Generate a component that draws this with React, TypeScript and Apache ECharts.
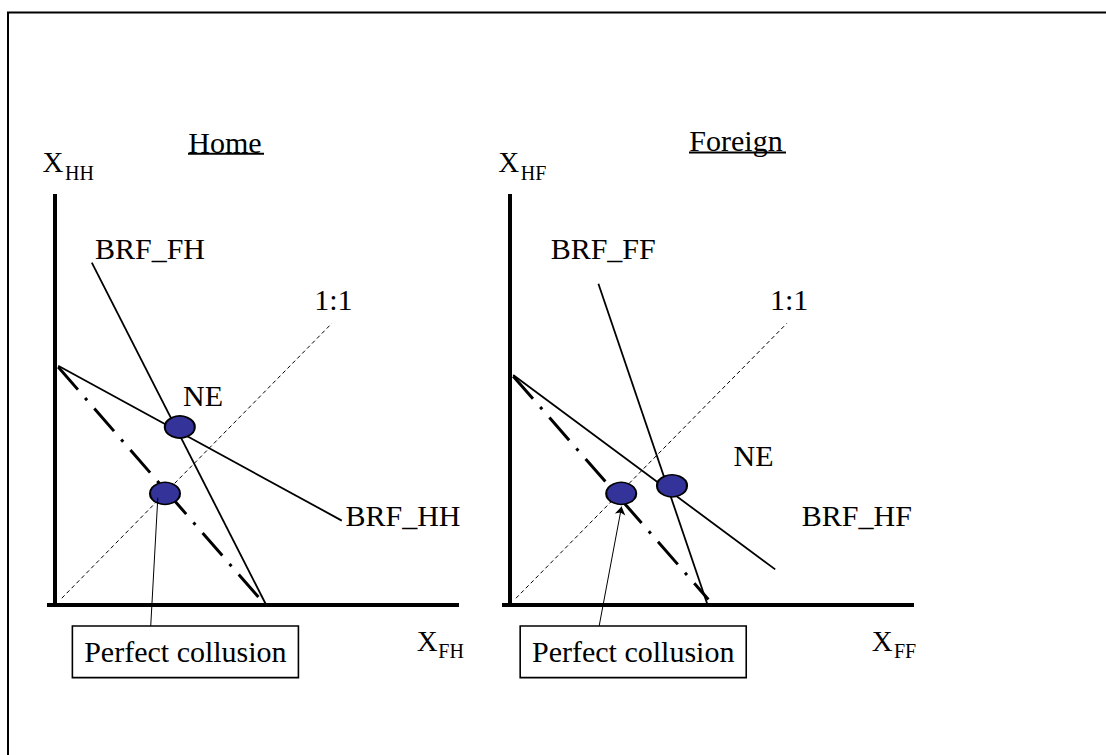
import React, { useEffect, useRef } from "react";
import * as echarts from "echarts";

// ---- Home panel data (axis units) ----
const homeBrfFH = [[0.92, 8.56], [5.28, 0]];
const homeBrfHH = [[0.08, 5.98], [7.17, 2.11]];
const homeCollusionLine = [[0.08, 5.95], [5.17, 0.1]];
const homeOneToOne = [[0.17, 0.17], [6.92, 7.04]];
const homeNE = [3.12, 4.45];
const homeCollusion = [2.75, 2.79];
const homeArrow = [[2.39, -0.58], [2.57, 2.68]];
const homeLabels = [
  { name: "BRF_FH", value: [2.375, 8.925] },
  { name: "1:1", value: [6.96, 7.64] },
  { name: "NE", value: [3.7, 5.25] },
  { name: "BRF_HH", value: [8.7, 2.25] },
];
const homeBox = { name: "Perfect collusion", value: [3.26, -1.17] };

// ---- Foreign panel data (axis units) ----
const foreignBrfFF = [[2.21, 8.03], [4.94, 0]];
const foreignBrfHF = [[0.08, 5.75], [6.63, 0.89]];
const foreignCollusionLine = [[0.08, 5.72], [4.96, 0.14]];
const foreignOneToOne = [[0.15, 0.17], [6.92, 7.04]];
const foreignNE = [4.05, 2.98];
const foreignCollusion = [2.78, 2.79];
const foreignArrow = [[2.21, -0.625], [2.79, 2.46]];
const foreignLabels = [
  { name: "BRF_FF", value: [2.33, 8.925] },
  { name: "1:1", value: [6.98, 7.65] },
  { name: "NE", value: [6.09, 3.74] },
  { name: "BRF_HF", value: [8.67, 2.25] },
];
const foreignBox = { name: "Perfect collusion", value: [3.08, -1.17] };

const FONT = '"Liberation Serif", "Times New Roman", serif';

function panelSeries(idx: number, d: any) {
  const base = { xAxisIndex: idx, yAxisIndex: idx };
  const solid = { color: "#000", width: 1.8, type: "solid" };
  const labelBase = {
    show: true, position: "inside", formatter: "{b}", color: "#000",
    fontSize: 30, fontFamily: FONT, textBorderWidth: 0, textBorderColor: "transparent",
    textShadowBlur: 0,
  };
  return [
    {
      ...base, type: "line", data: d.oneToOne, symbol: "none", silent: true,
      lineStyle: { color: "#000", width: 1, type: [4, 3] }, z: 2,
    },
    {
      ...base, type: "line", data: d.collusionLine, symbol: "none", silent: true,
      lineStyle: { color: "#000", width: 3, type: [30, 11, 3, 11], cap: "butt" }, z: 3,
    },
    { ...base, type: "line", data: d.brfA, symbol: "none", silent: true, lineStyle: solid, z: 3 },
    { ...base, type: "line", data: d.brfB, symbol: "none", silent: true, lineStyle: solid, z: 3 },
    {
      ...base, type: "scatter", data: [d.ne, d.collusion], symbol: "circle",
      symbolSize: [30, 22], silent: true, z: 5,
      itemStyle: { color: "#333399", borderColor: "#000", borderWidth: 1.8, opacity: 1 },
    },
    {
      ...base, type: "lines", coordinateSystem: "cartesian2d", clip: false, silent: true, z: 6,
      symbol: d.arrowHead ? ["none", "arrow"] : ["none", "none"], symbolSize: 8,
      lineStyle: { color: "#000", width: 1, opacity: 1, curveness: 0 },
      data: [{ coords: d.arrow }],
    },
    {
      ...base, type: "scatter", data: d.labels, symbolSize: 0, silent: true, z: 7,
      itemStyle: { color: "#000", opacity: 1 },
      label: labelBase,
    },
    {
      ...base, type: "scatter", data: [d.box], symbolSize: 0, silent: true, clip: false, z: 7,
      itemStyle: { color: "#000", opacity: 1 },
      label: {
        ...labelBase, lineHeight: 30,
        backgroundColor: "#fff", borderColor: "#000", borderWidth: 1.6, padding: [10, 11],
      },
    },
  ];
}

function txt(text: string, x: number, y: number, size: number) {
  return {
    type: "text", x, y, silent: true,
    style: {
      text, fill: "#000", fontSize: size, fontFamily: FONT,
      align: "left", verticalAlign: "middle", textAlign: "left", textVerticalAlign: "middle",
    },
  };
}

export default function App() {
  const ref = useRef<HTMLDivElement>(null);
  useEffect(() => {
    document.body.style.margin = "0";
    const chart = echarts.init(ref.current!, null, { renderer: "svg" });
    const axisCommon = {
      type: "value",
      axisTick: { show: false },
      axisLabel: { show: false },
      splitLine: { show: false },
      axisLine: { show: true, onZero: true, lineStyle: { color: "#000", width: 4, cap: "butt" } },
    };
    chart.setOption({
      animation: false,
      backgroundColor: "#fff",
      grid: [
        { left: 47, top: 194, width: 412, height: 411 },
        { left: 502, top: 194, width: 412, height: 411 },
      ],
      xAxis: [
        { ...axisCommon, gridIndex: 0, min: -0.2, max: 10.1 },
        { ...axisCommon, gridIndex: 1, min: -0.2, max: 10.1 },
      ],
      yAxis: [
        { ...axisCommon, gridIndex: 0, min: 0, max: 10.275 },
        { ...axisCommon, gridIndex: 1, min: 0, max: 10.275 },
      ],
      series: [
        ...panelSeries(0, {
          oneToOne: homeOneToOne, collusionLine: homeCollusionLine, brfA: homeBrfFH, brfB: homeBrfHH,
          ne: homeNE, collusion: homeCollusion, arrow: homeArrow, arrowHead: false,
          labels: homeLabels, box: homeBox,
        }),
        ...panelSeries(1, {
          oneToOne: foreignOneToOne, collusionLine: foreignCollusionLine, brfA: foreignBrfFF, brfB: foreignBrfHF,
          ne: foreignNE, collusion: foreignCollusion, arrow: foreignArrow, arrowHead: true,
          labels: foreignLabels, box: foreignBox,
        }),
      ],
      graphic: [
        {
          type: "rect", silent: true, shape: { x: 8, y: 12.5, width: 1300, height: 900 },
          style: { fill: "none", stroke: "#000", lineWidth: 2 },
        },
        txt("Home", 188.3, 142, 30),
        { type: "line", silent: true, shape: { x1: 188, y1: 153.7, x2: 264, y2: 153.7 }, style: { stroke: "#000", lineWidth: 2 } },
        txt("Foreign", 689.3, 140, 30),
        { type: "line", silent: true, shape: { x1: 689, y1: 152.5, x2: 786, y2: 152.5 }, style: { stroke: "#000", lineWidth: 2 } },
        txt("X", 42.5, 161.7, 29),
        txt("HH", 65, 173.3, 20),
        txt("X", 498.3, 161.7, 29),
        txt("HF", 520.7, 173.3, 20),
        txt("X", 416.7, 640.8, 29),
        txt("FH", 438.3, 650.8, 20),
        txt("X", 871.7, 640.8, 29),
        txt("FF", 894, 651.3, 20),
      ],
    });
    return () => chart.dispose();
  }, []);
  return <div ref={ref} style={{ width: 1106, height: 755 }} />;
}
